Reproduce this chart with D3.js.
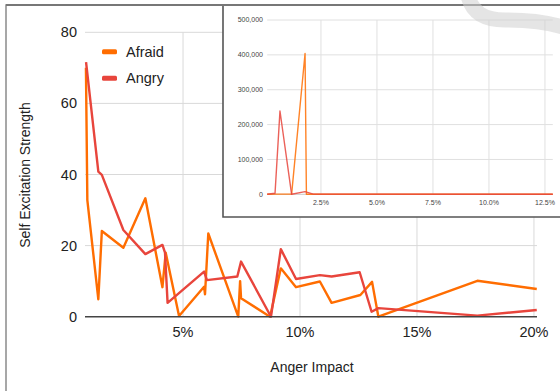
<!DOCTYPE html>
<html><head><meta charset="utf-8">
<script src="https://cdn.jsdelivr.net/npm/d3@7"></script>
<style>
html,body{margin:0;padding:0;background:#fff;}
svg{display:block;font-family:"Liberation Sans",Arial,sans-serif;}
</style></head>
<body>
<svg id="c" width="560" height="391"></svg>
<script>
// ---- data ----
const seriesNames = ["Afraid", "Angry"];
const seriesColors = ["#ff6d01", "#e8453c"];
const afraidX = [0.85,0.91,1.38,1.53,2.45,3.39,4.12,4.26,4.83,5.90,5.94,6.08,7.36,7.44,7.48,8.72,9.18,9.83,10.85,11.35,12.58,13.08,13.35,17.58,20.12];
const afraidY = [70,32.8,4.9,24.1,19.4,33.3,8.3,18,0.2,8.4,6.3,23.4,0,10,5.2,0,13.6,8.3,9.9,3.9,6.1,9.8,0,10.1,7.8];
const angryX = [0.855,1.38,1.53,2.45,3.39,4.12,4.23,4.34,5.90,6.02,7.32,7.48,8.76,9.18,9.83,10.85,11.35,12.55,13.06,13.35,17.58,20.12];
const angryY = [71.6,40.8,39.9,24.4,17.6,20.2,18,3.9,12.7,10.3,11.3,15.5,0,19,10.6,11.7,11.3,12.5,1.4,2.4,0.3,1.9];
const mainYTicks = [0,20,40,60,80];
const mainXTicks = [5,10,15,20];
// inset (full data incl. outliers)
const insetAfraidX = [0.1,0.45,1.19,1.79,1.85,2.2,12.85];
const insetAfraidY = [0,500,500,404000,0,0,0];
const insetAngryX = [0.1,0.45,0.67,1.19,1.79,2.16,12.85];
const insetAngryY = [0,3000,239000,0,7500,500,300];
const insetYTicks = [0,100000,200000,300000,400000,500000];
const insetXTicks = [2.5,5,7.5,10,12.5];

const svg = d3.select("#c");

// outer frame
svg.append("rect").attr("x",6).attr("y",5).attr("width",600).attr("height",420)
  .attr("fill","#fff").attr("stroke","#8a8a8a").attr("stroke-width",1.5);

// ---- main chart ----
const x = d3.scaleLinear().domain([0.81,20.13]).range([85,537]);
const y = d3.scaleLinear().domain([0,80]).range([316.7,32.3]);

const g = svg.append("g");
// horizontal grid
g.append("g").selectAll("line").data(mainYTicks.filter(d=>d>0)).join("line")
  .attr("x1",x.range()[0]).attr("x2",x.range()[1])
  .attr("y1",d=>y(d)).attr("y2",d=>y(d)).attr("stroke","#d9d9d9").attr("stroke-width",1);
// vertical grid
g.append("g").selectAll("line").data(mainXTicks).join("line")
  .attr("x1",d=>x(d)).attr("x2",d=>x(d))
  .attr("y1",y(80)).attr("y2",y(0)).attr("stroke","#d9d9d9").attr("stroke-width",1);
// y labels
g.append("g").selectAll("text").data(mainYTicks).join("text")
  .attr("x",77).attr("y",d=>y(d)).attr("dy","0.35em").attr("text-anchor","end")
  .attr("font-size",14.5).attr("fill","#222").text(d=>d);
// x labels
g.append("g").selectAll("text").data(mainXTicks).join("text")
  .attr("x",d=>x(d)).attr("y",332).attr("dy","0.35em").attr("text-anchor","middle")
  .attr("font-size",14.5).attr("fill","#222").text(d=>d+"%");
// titles
g.append("text").attr("x",312).attr("y",367).attr("dy","0.35em").attr("text-anchor","middle")
  .attr("font-size",14).attr("fill","#222").text("Anger Impact");
g.append("text").attr("transform","translate(25,175) rotate(-90)").attr("dy","0.35em")
  .attr("text-anchor","middle").attr("font-size",14).attr("fill","#222").text("Self Excitation Strength");

const line = d3.line().x(d=>x(d[0])).y(d=>y(d[1]));
const mainData = [d3.zip(afraidX,afraidY), d3.zip(angryX,angryY)];
g.append("g").selectAll("path").data(mainData).join("path")
  .attr("d",line).attr("fill","none").attr("stroke",(d,i)=>seriesColors[i])
  .attr("stroke-width",2.4).attr("stroke-linejoin","round");
// zero baseline
g.append("line").attr("x1",x.range()[0]).attr("x2",x.range()[1]).attr("y1",y(0)).attr("y2",y(0))
  .attr("stroke","#444").attr("stroke-width",1.5);

// legend
const lg = g.append("g").selectAll("g").data(seriesNames).join("g")
  .attr("transform",(d,i)=>`translate(102,${51.7+i*26.6})`);
lg.append("rect").attr("x",0).attr("y",-2.5).attr("width",15).attr("height",5).attr("rx",1.5)
  .attr("fill",(d,i)=>seriesColors[i]);
lg.append("text").attr("x",24).attr("dy","0.35em").attr("font-size",14.5).attr("fill","#222").text(d=>d);

// ---- inset ----
const ix = d3.scaleLinear().domain([0.1,12.85]).range([267.2,552.8]);
const iy = d3.scaleLinear().domain([0,500000]).range([194.3,20]);
const ig = svg.append("g");
ig.append("rect").attr("x",223).attr("y",5).attr("width",340).attr("height",212).attr("fill","#fff");
ig.append("g").selectAll("line").data(insetYTicks).join("line")
  .attr("x1",ix.range()[0]).attr("x2",ix.range()[1]).attr("y1",d=>iy(d)).attr("y2",d=>iy(d))
  .attr("stroke",d=>d===0?"#c8c8c8":"#e0e0e0").attr("stroke-width",1);
ig.append("g").selectAll("line").data(insetXTicks).join("line")
  .attr("x1",d=>ix(d)).attr("x2",d=>ix(d)).attr("y1",iy(500000)).attr("y2",iy(0))
  .attr("stroke","#e0e0e0").attr("stroke-width",1);
ig.append("g").selectAll("text").data(insetYTicks).join("text")
  .attr("x",263).attr("y",d=>iy(d)).attr("dy","0.35em").attr("text-anchor","end")
  .attr("font-size",7).attr("fill","#444").text(d=>d3.format(",")(d));
ig.append("g").selectAll("text").data(insetXTicks).join("text")
  .attr("x",d=>ix(d)).attr("y",203).attr("dy","0.35em").attr("text-anchor","middle")
  .attr("font-size",7).attr("fill","#444").text(d=>d3.format(".1f")(d)+"%");
const iline = d3.line().x(d=>ix(d[0])).y(d=>iy(d[1]));
const insetData = [d3.zip(insetAfraidX,insetAfraidY), d3.zip(insetAngryX,insetAngryY)];
ig.append("g").selectAll("path").data(insetData).join("path")
  .attr("d",iline).attr("fill","none").attr("stroke",(d,i)=>seriesColors[i])
  .attr("stroke-width",1.4).attr("stroke-opacity",0.85).attr("stroke-linejoin","round");
// inset border
ig.append("path").attr("d","M223,5 L223,217 L563,217").attr("fill","none")
  .attr("stroke","#555").attr("stroke-width",1.6);

// top frame line
svg.append("line").attr("x1",6).attr("x2",560).attr("y1",5).attr("y2",5)
  .attr("stroke","#777").attr("stroke-width",1.8);

// watermark swoosh
svg.append("path").attr("d","M468,-4 C472,12 484,20 505,20 C530,20 548,22 566,28")
  .attr("fill","none").attr("stroke","#cfcfcf").attr("stroke-opacity",0.55)
  .attr("stroke-width",15).attr("stroke-linecap","round");
</script>
</body></html>
